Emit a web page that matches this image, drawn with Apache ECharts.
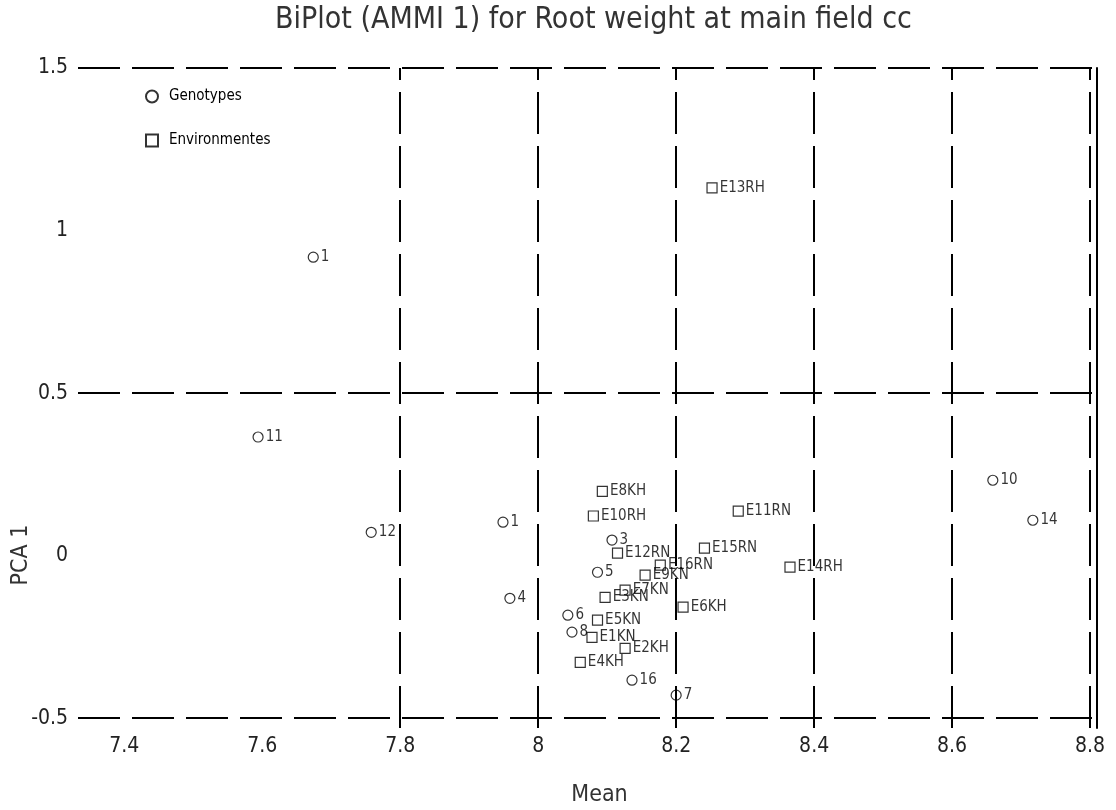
<!DOCTYPE html>
<html>
<head>
<meta charset="utf-8">
<script src="https://cdn.jsdelivr.net/npm/echarts@6/dist/echarts.min.js"></script>
<style>
  html, body { margin: 0; padding: 0; background: #fff; }
  #chart { width: 1116px; height: 810px; }
</style>
</head>
<body>
<div id="chart"></div>
<script>
// genotypes: label, mean, PCA 1
const genoNames = ['1', '11', '12', '1', '10', '14', '3', '5', '4', '6', '8', '16', '7']
const genoMean = [7.674, 7.594, 7.758, 7.949, 8.659, 8.717, 8.107, 8.086, 7.959, 8.043, 8.049, 8.136, 8.2]
const genoPca = [0.918, 0.365, 0.072, 0.103, 0.232, 0.109, 0.048, -0.051, -0.131, -0.183, -0.235, -0.383, -0.429]

// environments
const envNames = ['E13RH', 'E8KH', 'E10RH', 'E11RN', 'E15RN', 'E14RH', 'E6KH', 'E12RN',
  'E16RN', 'E9KN', 'E7KN', 'E3KN', 'E5KN', 'E1KN', 'E2KH', 'E4KH']
const envMean = [8.252, 8.093, 8.08, 8.29, 8.241, 8.365, 8.21, 8.115,
  8.177, 8.155, 8.126, 8.097, 8.086, 8.078, 8.126, 8.061]
const envPca = [1.131, 0.198, 0.122, 0.137, 0.023, -0.035, -0.158, 0.008,
  -0.029, -0.06, -0.106, -0.128, -0.198, -0.251, -0.285, -0.328]

// tick labels and reference lines
const xTicks = [7.4, 7.6, 7.8, 8, 8.2, 8.4, 8.6, 8.8]
const yTicks = [-0.5, 0, 0.5, 1, 1.5]
const vLines = [7.8, 8, 8.2, 8.4, 8.6, 8.8]
const hLines = [-0.5, 0.5, 1.5]

const FONT = "'Liberation Sans Narrow', 'DejaVu Sans Condensed', sans-serif"

function points (names, xs, ys) {
  return names.map((n, i) => ({ name: n, value: [xs[i], ys[i]] }))
}

const markerStyle = { color: 'rgba(0,0,0,0)', borderColor: '#000', borderWidth: 1.2 }
const pointLabel = {
  show: true,
  position: 'right',
  distance: 2,
  formatter: p => p.name,
  color: '#000',
  fontFamily: FONT,
  fontSize: 15
}

const chart = echarts.init(document.getElementById('chart'), null, { renderer: 'canvas' })

chart.setOption({
  animation: false,
  backgroundColor: '#fff',
  title: {
    text: 'BiPlot (AMMI 1) for Root weight at main field cc',
    left: 270,
    top: 0,
    textStyle: { fontFamily: FONT, fontSize: 30, fontWeight: 'normal', color: '#333' }
  },
  legend: {
    orient: 'vertical',
    left: 140,
    top: 84,
    itemGap: 29,
    itemWidth: 12,
    itemHeight: 12,
    data: [
      { name: 'Genotypes', icon: 'circle' },
      { name: 'Environmentes', icon: 'rect' }
    ],
    textStyle: { fontFamily: FONT, fontSize: 15, color: '#000', padding: [0, 0, 0, 6] }
  },
  grid: { left: 78, right: 19, top: 68, bottom: 82, outerBoundsMode: 'none', containLabel: false },
  xAxis: {
    type: 'value',
    min: 7.333,
    max: 8.81,
    name: 'Mean',
    nameLocation: 'middle',
    nameGap: 56,
    nameMoveOverlap: false,
    nameTextStyle: { fontFamily: FONT, fontSize: 23, color: '#333', padding: [0, 0, 0, 24] },
    axisLine: { show: false },
    axisTick: { show: false },
    splitLine: { show: false },
    axisLabel: {
      customValues: xTicks,
      margin: 8,
      fontFamily: FONT,
      fontSize: 21,
      color: '#222'
    }
  },
  yAxis: [
    {
      type: 'value',
      min: -0.53,
      max: 1.5,
      name: 'PCA 1',
      nameLocation: 'middle',
      nameGap: 45,
      nameMoveOverlap: false,
      nameTextStyle: { fontFamily: FONT, fontSize: 23, color: '#333', padding: [0, 314, 0, 0] },
      axisLine: { show: false },
      axisTick: { show: false },
      splitLine: { show: false },
      axisLabel: {
        customValues: yTicks,
        margin: 10,
        fontFamily: FONT,
        fontSize: 21,
        color: '#222'
      }
    },
    {
      type: 'value',
      position: 'right',
      min: -0.53,
      max: 1.5,
      axisLine: { show: true, lineStyle: { color: '#000', width: 2 } },
      axisTick: { show: false },
      axisLabel: { show: false },
      splitLine: { show: false }
    }
  ],
  series: [
    {
      name: 'lines',
      type: 'scatter',
      data: [],
      silent: true,
      markLine: {
        silent: true,
        symbol: 'none',
        label: { show: false },
        lineStyle: { color: '#000', width: 2, type: [42, 12] },
        data: vLines.map(v => ({ xAxis: v })).concat(hLines.map(v => ({ yAxis: v })))
      }
    },
    {
      name: 'Genotypes',
      type: 'scatter',
      symbol: 'circle',
      symbolSize: 10,
      itemStyle: markerStyle,
      label: pointLabel,
      data: points(genoNames, genoMean, genoPca),
      z: 3
    },
    {
      name: 'Environmentes',
      type: 'scatter',
      symbol: 'rect',
      symbolSize: 10,
      itemStyle: markerStyle,
      label: pointLabel,
      data: points(envNames, envMean, envPca),
      z: 3
    }
  ]
})
</script>
</body>
</html>
